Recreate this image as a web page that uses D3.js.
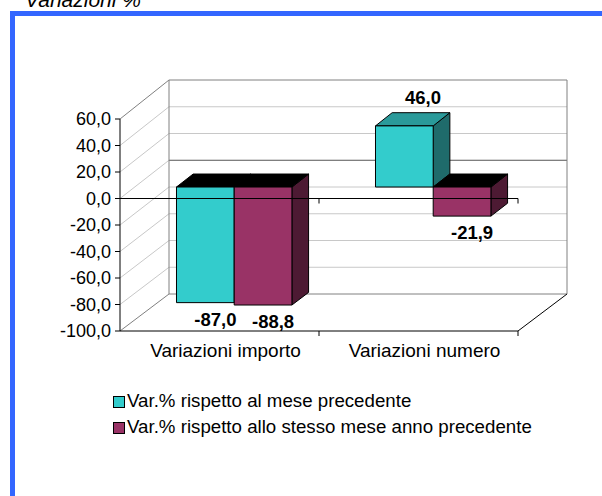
<!DOCTYPE html>
<html><head><meta charset="utf-8">
<script src="https://cdn.jsdelivr.net/npm/d3@7"></script>
<style>body{margin:0;background:#fff}svg{display:block}text{font-family:"Liberation Sans",Arial,sans-serif}</style>
</head><body>
<svg id="c" width="602" height="496"></svg>
<script>
const categories = ["Variazioni importo", "Variazioni numero"];
const seriesNames = ["Var.% rispetto al mese precedente", "Var.% rispetto allo stesso mese anno precedente"];
const seriesMesePrec = [-87.0, 46.0];
const seriesAnnoPrec = [-88.8, -21.9];
const yTicks = [-100, -80, -60, -40, -20, 0, 20, 40, 60];
const title = "Variazioni %";

const colors = [
  {front:"#33cccc", top:"#2a9a9a", side:"#1f6b6b", topNeg:"#000000"},
  {front:"#993366", top:"#7a2952", side:"#4d1a33", topNeg:"#000000"}
];
const series = [seriesMesePrec, seriesAnnoPrec];

const svg = d3.select("#c");
const fmt = v => d3.format(".1f")(v).replace(".", ",").replace("−","-");

// frame
svg.append("rect").attr("x",10).attr("y",11).attr("width",592).attr("height",5).attr("fill","#3366ff");
svg.append("rect").attr("x",10).attr("y",11).attr("width",5).attr("height",485).attr("fill","#3366ff");
svg.append("text").attr("x",25).attr("y",7).attr("font-size",21).attr("font-style","italic").attr("fill","#000").text(title);

// 3D scales
const yF = d3.scaleLinear().domain([-100,60]).range([331,119]);
const yB = d3.scaleLinear().domain([-100,60]).range([294,80]);
const xF = d3.scaleBand().domain(categories).range([120,518]).padding(0);
const DX = 49;
const P = (x, v, d) => [x + d*DX, yF(v)*(1-d) + yB(v)*d];
const line = pts => "M" + pts.map(p => p.join(",")).join("L") + "Z";
const seg = (a,b,stroke,w) => svg.append("line").attr("x1",a[0]).attr("y1",a[1]).attr("x2",b[0]).attr("y2",b[1]).attr("stroke",stroke).attr("stroke-width",w||1);

const x0 = 120, x1 = 518;
// left wall gridlines
yTicks.forEach(v => {
  const c = (v===60||v===-100) ? "#808080" : "#c8c8c8";
  seg(P(x0,v,0), P(x0,v,1), c);
});
// back wall gridlines
yTicks.forEach(v => {
  const c = (v===0) ? "#555555" : (v===60||v===-100) ? "#808080" : "#c8c8c8";
  seg(P(x0,v,1), P(x1,v,1), c);
});
seg(P(x0,-100,1), P(x0,60,1), "#808080");
seg(P(x1,-100,1), P(x1,60,1), "#808080");
// floor right diagonal
seg(P(x1,-100,0), P(x1,-100,1), "#000");

// bars
const groupW = xF.bandwidth()*0.58;
const xS = d3.scaleBand().domain(d3.range(series.length)).paddingInner(0).paddingOuter(0);
const d0 = 0.30, d1 = 0.64;
const labels = [];
categories.forEach((cat, ci) => {
  const cx = xF(cat) + xF.bandwidth()/2;
  xS.range([cx - groupW/2, cx + groupW/2]);
  series.forEach((s, si) => {
    const v = s[ci];
    const l = xS(si), r = xS(si) + xS.bandwidth();
    const col = colors[si];
    const top = Math.max(v,0), bot = Math.min(v,0);
    const front = [P(l,top,d0),P(r,top,d0),P(r,bot,d0),P(l,bot,d0)];
    const topF = [P(l,top,d0),P(r,top,d0),P(r,top,d1),P(l,top,d1)];
    const side = [P(r,top,d0),P(r,top,d1),P(r,bot,d1),P(r,bot,d0)];
    const g = svg.append("g").attr("stroke","#000").attr("stroke-width",1).attr("stroke-linejoin","round");
    g.append("path").attr("d",line(side)).attr("fill",col.side);
    g.append("path").attr("d",line(topF)).attr("fill", v<0 ? col.topNeg : col.top);
    g.append("path").attr("d",line(front)).attr("fill",col.front);
    if (v >= 0) {
      const p = P((l+r)/2, v, d1);
      labels.push({x:p[0]+2, y:p[1]-9, t:fmt(v)});
    } else {
      const p = P((l+r)/2, v, d0);
      labels.push({x:p[0]+10, y:p[1]+23, t:fmt(v)});
    }
  });
});

// front axes
seg(P(x0,0,0), P(x1,0,0), "#000");
seg(P(x0,-100,0), P(x1,-100,0), "#000");
seg(P(x0,-100,0), P(x0,60,0), "#000");
yTicks.forEach(v => seg([x0-5, yF(v)], [x0, yF(v)], "#000"));
[x0 + xF.bandwidth(), x1].forEach(x => {
  seg([x, yF(0)], [x, yF(0)+5], "#000");
  seg([x, yF(-100)], [x, yF(-100)+5], "#000");
});

// y tick labels
svg.append("g").selectAll("text").data(yTicks).join("text")
  .attr("x", 111).attr("y", d => yF(d)).attr("dy","0.35em").attr("text-anchor","end")
  .attr("font-size",18).attr("fill","#000").text(d => fmt(d));

// category labels
svg.append("g").selectAll("text").data(categories).join("text")
  .attr("x", d => xF(d) + xF.bandwidth()/2 + 6).attr("y", 357).attr("text-anchor","middle")
  .attr("font-size",19).attr("fill","#000").text(d => d);

// data labels
svg.append("g").selectAll("text").data(labels).join("text")
  .attr("x", d => d.x).attr("y", d => d.y).attr("text-anchor","middle")
  .attr("font-size",18.5).attr("font-weight","bold").attr("fill","#000").text(d => d.t);

// legend
const lg = svg.append("g");
seriesNames.forEach((n, i) => {
  const y = 407 + i*26;
  lg.append("rect").attr("x",113.5).attr("y",y-10.5).attr("width",11).attr("height",11)
    .attr("fill",colors[i].front).attr("stroke","#000");
  lg.append("text").attr("x",127).attr("y",y).attr("font-size",18.7).attr("fill","#000").text(n);
});
</script>
</body></html>
